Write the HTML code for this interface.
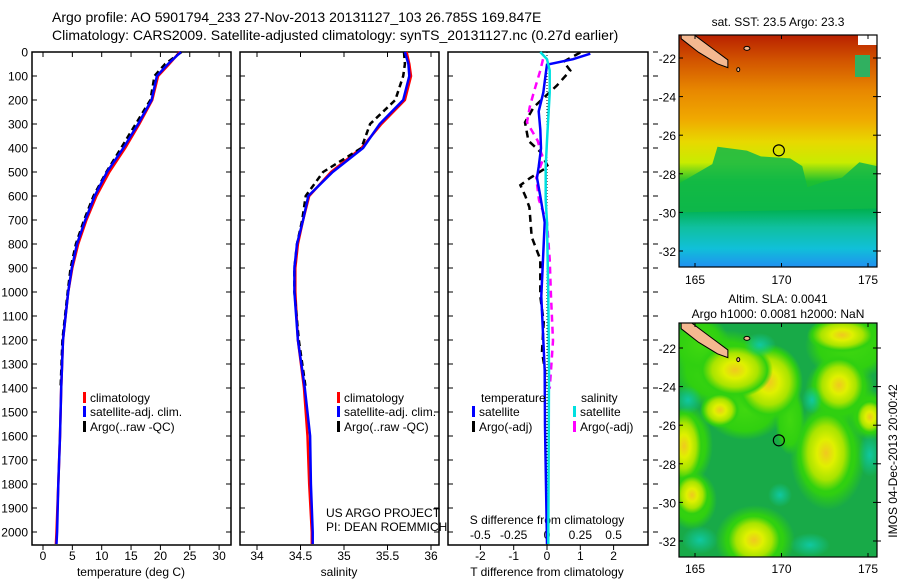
<!DOCTYPE html>
<html><head><meta charset="utf-8">
<style>
html,body{margin:0;padding:0;background:#fff;}
svg{display:block;font-family:"Liberation Sans",sans-serif;}
text{fill:#000;}
</style></head>
<body>
<svg id="chart" width="900" height="580" viewBox="0 0 900 580" xmlns="http://www.w3.org/2000/svg">
<defs>
<linearGradient id="sstGrad" x1="0" y1="0" x2="0" y2="1">
<stop offset="0" stop-color="#b82000"/>
<stop offset="0.1" stop-color="#d05000"/>
<stop offset="0.24" stop-color="#e88800"/>
<stop offset="0.36" stop-color="#f0a800"/>
<stop offset="0.46" stop-color="#e8d800"/>
<stop offset="0.55" stop-color="#c8ec00"/>
<stop offset="0.63" stop-color="#20c030"/>
<stop offset="0.75" stop-color="#00b050"/>
<stop offset="0.83" stop-color="#10c0a0"/>
<stop offset="0.92" stop-color="#10c0d8"/>
<stop offset="1" stop-color="#2090f0"/>
</linearGradient>
<radialGradient id="blob"><stop offset="0" stop-color="#f0c820"/><stop offset="0.3" stop-color="#e0f000"/><stop offset="0.6" stop-color="#a8e400"/><stop offset="0.85" stop-color="#30d010"/><stop offset="1" stop-color="#30d010" stop-opacity="0"/></radialGradient>
<radialGradient id="lime"><stop offset="0" stop-color="#40d810"/><stop offset="0.7" stop-color="#30d010"/><stop offset="1" stop-color="#30d010" stop-opacity="0"/></radialGradient>
<radialGradient id="cblob"><stop offset="0" stop-color="#10c8a0"/><stop offset="1" stop-color="#10c8a0" stop-opacity="0"/></radialGradient>
<clipPath id="m1clip"><rect x="679" y="35" width="198" height="232"/></clipPath>
<clipPath id="m2clip"><rect x="679" y="323" width="198" height="234"/></clipPath>
</defs>
<g id="root"></g>
</svg>
<script>
// ---- data ----
const depthLevels = [0,50,100,200,300,400,500,600,700,800,900,1000,1200,1400,1600,1800,2000,2050];
const argoDepths = [0,50,100,200,300,400,500,600,700,800,900,1000,1200,1400];
const tempClim = [23.3,21.5,19.6,18.6,16.4,14.0,11.3,9.1,7.4,6.0,5.0,4.3,3.4,3.1,2.9,2.6,2.3,2.2];
const tempSat = [23.5,21.3,19.4,18.5,16.2,13.7,10.9,8.8,7.2,5.8,4.9,4.3,3.4,3.1,2.9,2.6,2.4,2.3];
const tempArgo = [23.6,20.8,19.0,18.3,15.8,13.3,10.8,8.6,7.0,5.6,4.7,4.2,3.3,3.0];
const salClim = [35.72,35.75,35.77,35.70,35.43,35.20,34.85,34.60,34.53,34.47,34.44,34.44,34.47,34.54,34.58,34.60,34.63,34.63];
const salSat = [35.70,35.74,35.75,35.68,35.41,35.22,34.87,34.59,34.53,34.46,34.43,34.43,34.47,34.55,34.61,34.62,34.64,34.64];
const salArgo = [35.69,35.70,35.68,35.59,35.30,35.20,34.76,34.56,34.52,34.46,34.43,34.43,34.48,34.56];
const tDiffSatDepths = [7,30,53,92,169,247,323,402,478,524,601,710,1018,1326,1558,2050];
const tDiffSat = [1.3,0.78,0.0,-0.04,-0.11,-0.25,-0.2,-0.18,-0.25,-0.3,-0.2,-0.07,-0.17,-0.07,-0.06,0];
const tDiffArgoDepths = [2,40,77,139,230,293,370,416,478,524,555,601,647,771,864,1018,1126,1249,1326,1400];
const tDiffArgo = [1.0,0.5,0.7,0.3,-0.4,-0.66,-0.56,-0.2,0.03,-0.5,-0.8,-0.65,-0.53,-0.46,-0.2,-0.2,-0.1,-0.15,-0.06,-0.06];
const sDiffSatDepths = [0,30,77,169,370,478,617,710,1018,1326,2050];
const sDiffSat = [-0.05,0,0.02,0.02,0,-0.01,-0.01,0,0.01,0.015,0.01];
const sDiffArgoDepths = [30,77,169,230,293,370,447,524,617,710,864,1018,1203,1326,1403];
const sDiffArgo = [-0.03,-0.05,-0.1,-0.13,-0.15,-0.07,-0.03,-0.08,-0.06,0,0.02,0.03,0.045,0.03,0.02];
const depthTicks = [0,100,200,300,400,500,600,700,800,900,1000,1100,1200,1300,1400,1500,1600,1700,1800,1900,2000];
const tempTicks = [0,5,10,15,20,25,30];
const salTicks = [34,34.5,35,35.5,36];
const salTickLabels = ["34","34.5","35","35.5","36"];
const tDiffTicks = [-2,-1,0,1,2];
const sDiffTicks = [-0.5,-0.25,0,0.25,0.5];
const sDiffTickLabels = ["-0.5","-0.25","0","0.25","0.5"];
const latTicks = [-22,-24,-26,-28,-30,-32];
const lonTicks = [165,170,175];
const argoLon = 169.847, argoLat = -26.785;

// ---- scales ----
const PY0 = 52, PY1 = 545;
const yD = d => PY0 + 0.24 * d;
const xT = t => 43 + 5.87 * t;
const xS = s => 257 + 87 * (s - 34);
const xTd = t => 547 + 33.3 * t;
const xSd = s => 547 + 133.3 * s;
const lonX = lon => 695 + (lon - 165) * 17.3;
const latY1 = lat => 58 + (-22 - lat) * 19.3;
const latY2 = lat => 348 + (-22 - lat) * 19.3;

const NS = "http://www.w3.org/2000/svg";
const root = document.getElementById("root");
function mk(tag, attrs, parent) {
  const e = document.createElementNS(NS, tag);
  for (const k in attrs) e.setAttribute(k, attrs[k]);
  (parent || root).appendChild(e);
  return e;
}
function txt(x, y, s, anchor, size, parent) {
  const t = mk("text", {x: x, y: y, "text-anchor": anchor || "start", "font-size": size || 12}, parent);
  t.textContent = s;
  return t;
}
function line(xs, ds, sx, color, dash, name) {
  const pts = xs.map((v, i) => sx(v).toFixed(1) + "," + yD(ds[i]).toFixed(1)).join(" ");
  const p = mk("polyline", {points: pts, fill: "none", stroke: color, "stroke-width": 2.5, "stroke-dasharray": dash || "none"});
  
  
  return p;
}

// titles
let t1 = txt(52, 22, "Argo profile: AO 5901794_233 27-Nov-2013 20131127_103 26.785S 169.847E", "start", 14);


let t2 = txt(52, 40, "Climatology: CARS2009. Satellite-adjusted climatology: synTS_20131127.nc (0.27d earlier)", "start", 14);



// panel frames
const panels = [{x0:32,x1:231,name:"temperature-panel"},{x0:240,x1:439,name:"salinity-panel"},{x0:448,x1:648,name:"difference-panel"}];
panels.forEach(p => {
  const r = mk("rect", {x: p.x0, y: PY0, width: p.x1 - p.x0, height: PY1 - PY0, fill: "none", stroke: "#000", "stroke-width": 1.5});
  
  
  depthTicks.forEach(d => {
    mk("line", {x1: p.x0, x2: p.x0 + 5, y1: yD(d), y2: yD(d), stroke: "#000"});
    mk("line", {x1: p.x1 - 5, x2: p.x1, y1: yD(d), y2: yD(d), stroke: "#000"});
  });
});
depthTicks.forEach(d => {
  const t = txt(28, yD(d) + 4.5, String(d), "end", 12);
  
  
});
depthTicks.forEach(d => { mk("line", {x1: 653, x2: 658, y1: yD(d), y2: yD(d), stroke: "#000"}); });

function xticks(vals, labels, sx, y, top) {
  vals.forEach((v, i) => {
    mk("line", {x1: sx(v), x2: sx(v), y1: PY1, y2: PY1 + 5, stroke: "#000"});
    if (top) mk("line", {x1: sx(v), x2: sx(v), y1: PY0, y2: PY0 + 5, stroke: "#000"});
    const t = txt(sx(v), y, labels[i], "middle", 12);
    
    
  });
}
xticks(tempTicks, tempTicks.map(String), xT, 560, true);
xticks(salTicks, salTickLabels, xS, 560, true);
xticks(tDiffTicks, tDiffTicks.map(String), xTd, 560, false);
sDiffTicks.forEach((v, i) => {
  const t = txt(xSd(v), 539, sDiffTickLabels[i], "middle", 12);
  
  
});
let at = txt(131, 576, "temperature (deg C)", "middle", 12);
 
at = txt(339, 576, "salinity", "middle", 12);
 
at = txt(547, 576, "T difference from climatology", "middle", 12);
 
at = txt(547, 524, "S difference from climatology", "middle", 12);
 

const zl = mk("line", {x1: xTd(0), x2: xTd(0), y1: PY0, y2: PY1, stroke: "#000", "stroke-dasharray": "1,2"});
 

line(tempClim, depthLevels, xT, "#ff0000", null, "temp-climatology-line");
line(tempArgo, argoDepths, xT, "#000", "6,4", "temp-argo-line");
line(tempSat, depthLevels, xT, "#0000ff", null, "temp-satellite-line");
line(salClim, depthLevels, xS, "#ff0000", null, "sal-climatology-line");
line(salArgo, argoDepths, xS, "#000", "6,4", "sal-argo-line");
line(salSat, depthLevels, xS, "#0000ff", null, "sal-satellite-line");
line(tDiffArgo, tDiffArgoDepths, xTd, "#000", "7,5", "t-diff-argo-line");
line(sDiffArgo, sDiffArgoDepths, xSd, "#ff00ff", "7,5", "s-diff-argo-line");
line(tDiffSat, tDiffSatDepths, xTd, "#0000ff", null, "t-diff-satellite-line");
line(sDiffSat, sDiffSatDepths, xSd, "#00e0e0", null, "s-diff-satellite-line");

function legend(x, y, color, label, name) {
  const g = mk("g", {});
  
  
  mk("rect", {x: x, y: y - 10, width: 3, height: 11, fill: color}, g);
  txt(x + 7, y, label, "start", 12, g);
}
legend(83, 402, "#ff0000", "climatology", "legend-entry-climatology");
legend(83, 416, "#0000ff", "satellite-adj. clim.", "legend-entry-satellite-adj");
legend(83, 431, "#000", "Argo(..raw -QC)", "legend-entry-argo");
legend(337, 402, "#ff0000", "climatology", "legend-entry-climatology-sal");
legend(337, 416, "#0000ff", "satellite-adj. clim.", "legend-entry-satellite-adj-sal");
legend(337, 431, "#000", "Argo(..raw -QC)", "legend-entry-argo-sal");
at = txt(481, 402, "temperature", "start", 12);  
at = txt(581, 402, "salinity", "start", 12);  
legend(472, 416, "#0000ff", "satellite", "legend-entry-t-satellite");
legend(472, 431, "#000", "Argo(-adj)", "legend-entry-t-argo");
legend(573, 416, "#00e0e0", "satellite", "legend-entry-s-satellite");
legend(573, 431, "#ff00ff", "Argo(-adj)", "legend-entry-s-argo");
at = txt(326, 517, "US ARGO PROJECT", "start", 12);  
at = txt(326, 531, "PI: DEAN ROEMMICH", "start", 12);  

// ---- maps ----
function island(g, yf) {
  mk("path", {d: `M ${lonX(164.2)} ${yf(-20.6)} L ${lonX(164.8)} ${yf(-20.7)} L ${lonX(166)} ${yf(-21.5)} L ${lonX(166.9)} ${yf(-22.1)} L ${lonX(166.9)} ${yf(-22.5)} L ${lonX(166.3)} ${yf(-22.3)} L ${lonX(165.2)} ${yf(-21.7)} L ${lonX(164.2)} ${yf(-21)} Z`, fill: "#f4b890", stroke: "#000", "stroke-width": 1}, g);
  mk("ellipse", {cx: lonX(168), cy: yf(-21.5), rx: 3, ry: 2, fill: "#f4b890", stroke: "#000"}, g);
  mk("ellipse", {cx: lonX(167.5), cy: yf(-22.6), rx: 1.5, ry: 2, fill: "#f4b890", stroke: "#000"}, g);
}
const m1 = mk("g", {"clip-path": "url(#m1clip)"});
 
mk("rect", {x: 679, y: 35, width: 198, height: 232, fill: "url(#sstGrad)"}, m1);
mk("path", {d: `M679 ${latY1(-28.5)} L${lonX(166)} ${latY1(-27.5)} L${lonX(166.3)} ${latY1(-26.6)} L${lonX(168)} ${latY1(-26.8)} L${lonX(168.8)} ${latY1(-27.1)} L${lonX(170.5)} ${latY1(-27.2)} L${lonX(171.2)} ${latY1(-27.6)} L${lonX(171.5)} ${latY1(-28.7)} L${lonX(172.5)} ${latY1(-28.4)} L${lonX(173.5)} ${latY1(-28.2)} L${lonX(174.5)} ${latY1(-27.4)} L877 ${latY1(-27.6)} L877 ${latY1(-29.8)} L679 ${latY1(-30)} Z`, fill: "#10b848", opacity: 0.85}, m1);
mk("rect", {x: 858, y: 35, width: 19, height: 10, fill: "#fff"}, m1);
mk("rect", {x: 855, y: 55, width: 15, height: 22, fill: "#30b060"}, m1);
island(m1, latY1);
mk("circle", {cx: lonX(argoLon), cy: latY1(argoLat), r: 5.5, fill: "none", stroke: "#000", "stroke-width": 1.2});
mk("rect", {x: 679, y: 35, width: 198, height: 232, fill: "none", stroke: "#000", "stroke-width": 1.2});

const m2 = mk("g", {"clip-path": "url(#m2clip)"});
 
mk("rect", {x: 679, y: 323, width: 198, height: 234, fill: "#18aa48"}, m2);
// lime halos
[[725,370,55,40],[700,345,30,30],[850,345,45,35],[840,390,35,35],[828,455,38,55],[688,445,25,40],[692,500,25,30],[755,540,40,35],[870,415,22,25],[745,410,40,30],[790,420,15,35]].forEach(b => {
  mk("ellipse", {cx: b[0], cy: b[1], rx: b[2], ry: b[3], fill: "url(#lime)"}, m2);
});
// yellow blobs
[[769,382,34,38],[735,370,38,28],[839,385,28,30],[842,335,35,18],[826,453,30,45],[684,446,20,38],[692,495,18,22],[754,540,30,28],[870,417,15,18],[720,410,20,18]].forEach(b => {
  mk("ellipse", {cx: b[0], cy: b[1], rx: b[2], ry: b[3], fill: "url(#blob)"}, m2);
});
// cyan patches
[[688,400,14,14],[870,455,12,22],[780,495,12,12],[700,540,18,14],[810,545,20,12],[760,345,16,12],[812,400,10,14]].forEach(b => {
  mk("ellipse", {cx: b[0], cy: b[1], rx: b[2], ry: b[3], fill: "url(#cblob)"}, m2);
});
island(m2, latY2);
mk("circle", {cx: lonX(argoLon), cy: latY2(argoLat), r: 5.5, fill: "none", stroke: "#000", "stroke-width": 1.2});
mk("rect", {x: 679, y: 323, width: 198, height: 234, fill: "none", stroke: "#000", "stroke-width": 1.2});

[[latY1, 35, 267, 284], [latY2, 323, 557, 573]].forEach(m => {
  latTicks.forEach(l => {
    mk("line", {x1: 679, x2: 683, y1: m[0](l), y2: m[0](l), stroke: "#000"});
    mk("line", {x1: 873, x2: 881, y1: m[0](l), y2: m[0](l), stroke: "#000"});
    const t = txt(676, m[0](l) + 5, String(l), "end", 12);
     
  });
  lonTicks.forEach(l => {
    mk("line", {x1: lonX(l), x2: lonX(l), y1: m[1], y2: m[1] + 4, stroke: "#000"});
    mk("line", {x1: lonX(l), x2: lonX(l), y1: m[2] - 4, y2: m[2], stroke: "#000"});
    const t = txt(lonX(l), m[3], String(l), "middle", 12);
     
  });
});
at = txt(778, 26, "sat. SST: 23.5 Argo: 23.3", "middle", 12);  
at = txt(778, 303, "Altim. SLA: 0.0041", "middle", 12);  
at = txt(778, 318, "Argo h1000: 0.0081 h2000: NaN", "middle", 12);  
at = txt(0, 0, "IMOS 04-Dec-2013 20:00:42", "middle", 12);
at.setAttribute("transform", "translate(897,461) rotate(-90)");
 
</script>
</body></html>
